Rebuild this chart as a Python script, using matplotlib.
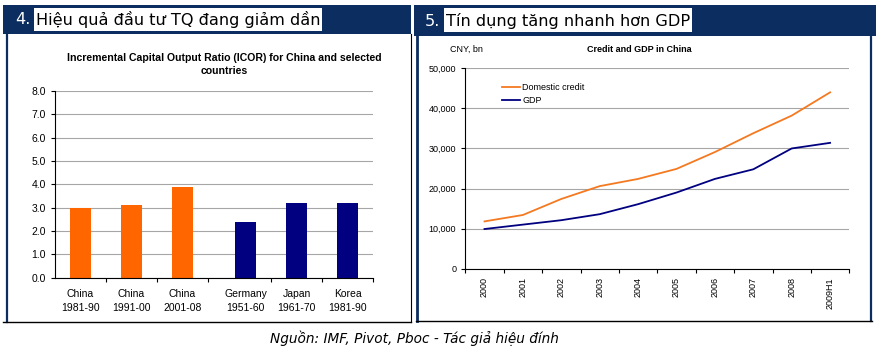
import numpy as np
import matplotlib.pyplot as plt
from matplotlib.patches import Rectangle
from matplotlib.lines import Line2D

# ICOR chart data
icor_labels = ["China\n1981-90", "China\n1991-00", "China\n2001-08",
               "Germany\n1951-60", "Japan\n1961-70", "Korea\n1981-90"]
icor_values = [3.0, 3.1, 3.9, 2.4, 3.2, 3.2]
icor_colors = ["#FF6600", "#FF6600", "#FF6600", "#000080", "#000080", "#000080"]
icor_pos = [0, 1, 2, 3.25, 4.25, 5.25]

# credit vs GDP data (CNY bn)
years = ["2000", "2001", "2002", "2003", "2004", "2005", "2006", "2007", "2008", "2009H1"]
credit = [11800, 13400, 17400, 20600, 22400, 24900, 29100, 33800, 38200, 44000]
gdp = [9900, 11000, 12100, 13600, 16100, 19000, 22400, 24800, 30000, 31400]

W, H = 876, 349
NAVY = "#0B2D5F"

fig = plt.figure(figsize=(W / 100, H / 100), dpi=100)
fig.patch.set_facecolor("white")
plt.rcParams['font.family'] = ['Liberation Sans', 'DejaVu Sans']


def fx(x):
    return x / W


def fy(y):
    return 1 - y / H


def rect(x0, y0, x1, y1, color):
    fig.add_artist(Rectangle((fx(x0), fy(y1)), fx(x1 - x0), (y1 - y0) / H,
                             transform=fig.transFigure, facecolor=color,
                             edgecolor="none", zorder=0))


def line(x0, y0, x1, y1, color, lw):
    fig.add_artist(Line2D([fx(x0), fx(x1)], [fy(y0), fy(y1)],
                          transform=fig.transFigure, color=color, lw=lw))


# panel frames and header bars
rect(3, 5, 411, 34, NAVY)
rect(414, 5, 876, 36, NAVY)
rect(34, 8, 322, 31, "white")
rect(444, 8, 692, 32, "white")
line(6.5, 34, 6.5, 322, NAVY, 1.6)
line(411, 34, 411, 322, "black", 0.8)
line(3, 322, 411, 322, "black", 1.0)
line(417, 36, 417, 321, NAVY, 2.0)
line(870.5, 36, 870.5, 321, NAVY, 1.6)
line(416, 321, 872, 321, "black", 1.0)

hfont = dict(family="DejaVu Sans", fontsize=11.6, va="center")
fig.text(fx(15), fy(20), "4.", color="white", **hfont)
fig.text(fx(36), fy(20), "Hiệu quả đầu tư TQ đang giảm dần", color="black", **hfont)
fig.text(fx(425), fy(21), "5.", color="white", **hfont)
fig.text(fx(446), fy(21), "Tín dụng tăng nhanh hơn GDP", color="black", **hfont)

fig.text(fx(414), fy(338), "Nguồn: IMF, Pivot, Pboc - Tác giả hiệu đính",
         family="DejaVu Sans", style="italic", fontsize=9.8, ha="center", va="center")


def style_axes(ax):
    ax.spines["top"].set_visible(False)
    ax.spines["right"].set_visible(False)
    ax.spines["left"].set_linewidth(0.8)
    ax.spines["bottom"].set_linewidth(0.8)
    ax.yaxis.grid(True, color="#A6A6A6", lw=0.8)
    ax.set_axisbelow(True)
    ax.tick_params(axis="both", which="major", length=3, width=0.8)
    ax.tick_params(axis="x", which="major", labelbottom=False)
    ax.tick_params(axis="x", which="minor", length=0)


# left: ICOR bars
ax1 = fig.add_axes([fx(55), fy(277.7), fx(318), 186.7 / H])
ax1.bar(icor_pos, icor_values, width=0.42, color=icor_colors)
ax1.set_xlim(-0.5, 5.75)
ax1.set_ylim(0, 8)
ax1.set_yticks(np.arange(0, 9, 1))
ax1.set_yticklabels([f"{v:.1f}" for v in np.arange(0, 9, 1)], fontsize=7.5)
ax1.set_xticks([0.5, 1.5, 2.5, 3.75, 4.75, 5.75])
ax1.set_xticks(icor_pos, minor=True)
ax1.set_xticklabels(icor_labels, minor=True, fontsize=7.5, linespacing=1.5)
style_axes(ax1)
ax1.tick_params(axis="x", which="minor", pad=8)
fig.text(fx(224), fy(64.5), "Incremental Capital Output Ratio (ICOR) for China and selected\ncountries",
         fontsize=7.6, fontweight="bold", ha="center", va="center", linespacing=1.35)

# right: credit and GDP lines
ax2 = fig.add_axes([fx(465.3), fy(268.7), fx(384), 200.4 / H])
x = np.arange(len(years))
ax2.plot(x, credit, color="#F47920", lw=1.3, label="Domestic credit")
ax2.plot(x, gdp, color="#000080", lw=1.3, label="GDP")
ax2.set_xlim(-0.5, len(years) - 0.5)
ax2.set_ylim(0, 50000)
ax2.set_yticks(np.arange(0, 50001, 10000))
ax2.set_yticklabels([f"{v:,}" for v in range(0, 50001, 10000)], fontsize=6.5)
ax2.set_xticks(np.arange(-0.5, len(years), 1))
ax2.set_xticks(x, minor=True)
ax2.set_xticklabels(years, minor=True, rotation=90, fontsize=6.5)
style_axes(ax2)
ax2.tick_params(axis="x", which="minor", pad=6)
ax2.legend(loc="upper left", bbox_to_anchor=(0.075, 0.965), frameon=False, fontsize=6.5,
           handlelength=2, handletextpad=0.2, labelspacing=0.4)
fig.text(fx(639), fy(49), "Credit and GDP in China", fontsize=6.5, fontweight="bold",
         ha="center", va="center")
fig.text(fx(450), fy(49), "CNY, bn", fontsize=6.5, ha="left", va="center")

fig.savefig("out.png", dpi=100)
